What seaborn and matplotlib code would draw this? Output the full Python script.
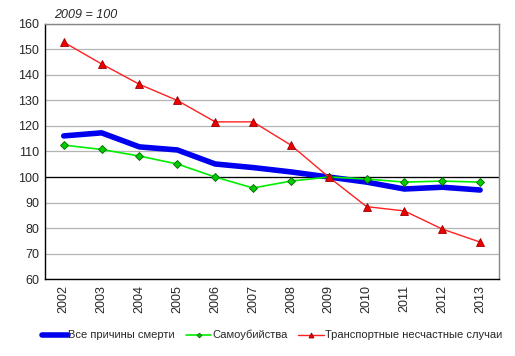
import pandas as pd
import matplotlib
matplotlib.use("Agg")
import matplotlib.pyplot as plt
import seaborn as sns

years = [2002, 2003, 2004, 2005, 2006, 2007, 2008, 2009, 2010, 2011, 2012, 2013]
all_causes = [116.1, 117.3, 111.8, 110.6, 105.1, 103.7, 102.0, 100.0, 98.0, 95.3, 96.0, 94.9]
suicides = [112.5, 110.8, 108.2, 105.1, 100.0, 95.7, 98.4, 100.0, 99.2, 98.0, 98.4, 98.0]
transport = [152.8, 144.3, 136.3, 130.0, 121.6, 121.6, 112.5, 100.0, 88.4, 86.7, 79.6, 74.5]

names = ["Все причины смерти", "Самоубийства", "Транспортные несчастные случаи"]

df = pd.DataFrame({
    "year": years * 3,
    "value": all_causes + suicides + transport,
    "series": [names[0]] * 12 + [names[1]] * 12 + [names[2]] * 12,
})

sns.set_style("white")
plt.rcParams["font.family"] = ["Liberation Sans", "DejaVu Sans"]
plt.rcParams["font.size"] = 9

fig = plt.figure(figsize=(5.15, 3.56), dpi=100)
ax = fig.add_axes([0.087, 0.216, 0.882, 0.717])

ax.set_ylim(60, 160)
ax.set_xlim(2001.5, 2013.5)
ax.set_yticks(range(60, 161, 10))
ax.yaxis.grid(True, color="#b4b4b4", linewidth=0.9)
ax.set_axisbelow(True)
ax.axhline(100, color="black", linewidth=0.9, zorder=1.5)

styles = {
    names[0]: dict(color="#0000ee", linewidth=4, marker=None),
    names[1]: dict(color="#00ee00", linewidth=1.2, marker="D", markersize=4,
                   markerfacecolor="#00cc00", markeredgecolor="#006600", markeredgewidth=0.6),
    names[2]: dict(color="#ff2020", linewidth=1.0, marker="^", markersize=6,
                   markerfacecolor="#ee0000", markeredgecolor="#990000", markeredgewidth=0.6),
}
for name in names:
    sub = df[df["series"] == name]
    sns.lineplot(data=sub, x="year", y="value", ax=ax, label=name, **styles[name])

ax.set_xticks(years)
ax.set_xticklabels([str(y) for y in years], rotation=90)
ax.set_xlabel("")
ax.set_ylabel("")
ax.tick_params(axis="both", length=0, pad=4)

for side in ["top", "right"]:
    ax.spines[side].set_color("#888888")
for side in ["left", "bottom"]:
    ax.spines[side].set_color("black")
for s in ax.spines.values():
    s.set_linewidth(1)

ax.text(0.02, 1.035, "2009 = 100", transform=ax.transAxes, fontstyle="italic",
        fontsize=9, va="center", ha="left")

leg = ax.legend(loc="center", bbox_to_anchor=(0.5, -0.22), ncol=3, frameon=False,
                handlelength=2.3, handletextpad=0.05, columnspacing=1.0, fontsize=8,
                markerscale=0.6, borderaxespad=0)

fig.savefig("out.png", dpi=100)
